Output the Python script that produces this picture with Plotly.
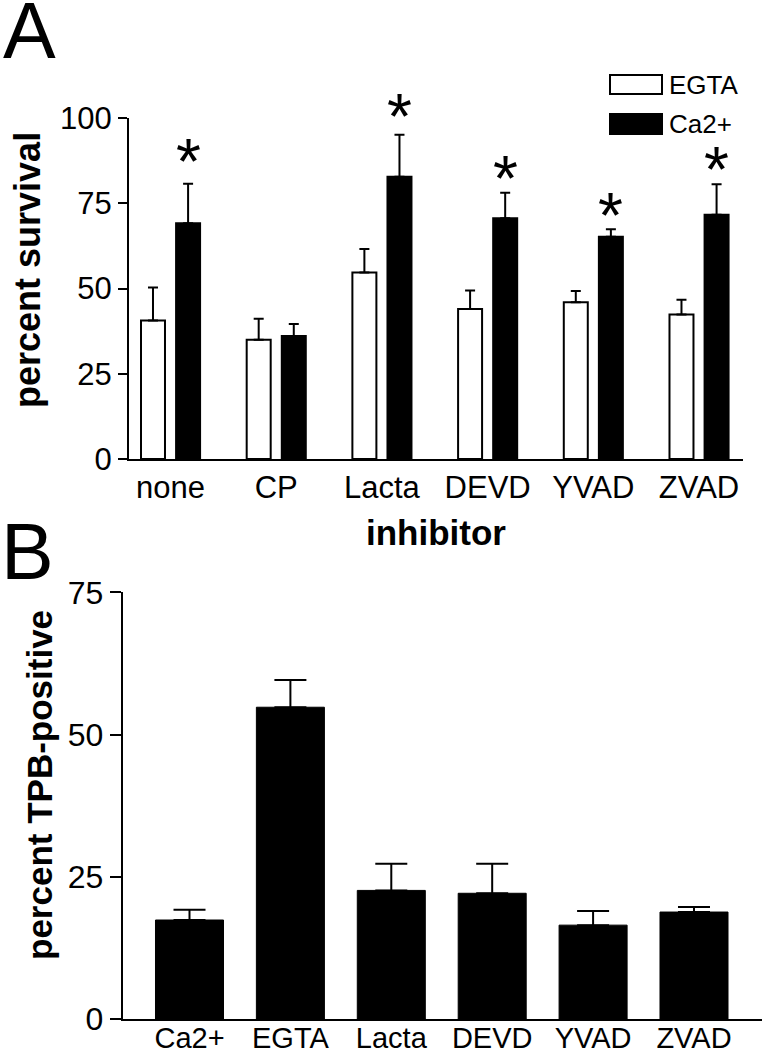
import plotly.graph_objects as go

# ---- Panel A data ----
inhibitors = ["none", "CP", "Lacta", "DEVD", "YVAD", "ZVAD"]
egta_mean = [40.6, 35.0, 54.7, 44.0, 46.0, 42.4]
egta_sem = [9.7, 6.1, 6.9, 5.4, 3.3, 4.3]
ca_mean = [69.1, 36.1, 82.8, 70.6, 65.2, 71.6]
ca_sem = [11.6, 3.5, 12.3, 7.5, 2.2, 9.0]
sig_groups = ["none", "Lacta", "DEVD", "YVAD", "ZVAD"]
sig_level = [89.6, 102.9, 84.7, 73.8, 87.4]
yticks_a = [0, 25, 50, 75, 100]

# ---- Panel B data ----
conditions = ["Ca2+", "EGTA", "Lacta", "DEVD", "YVAD", "ZVAD"]
tpb_mean = [17.4, 54.8, 22.6, 22.1, 16.5, 18.8]
tpb_sem = [1.8, 4.8, 4.7, 5.2, 2.5, 0.9]
yticks_b = [0, 25, 50, 75]

W, H = 774, 1050
FONT = "Liberation Sans, Arial, sans-serif"
YMAX_A = 100

def px_x(p):
    return p / W

def px_y(p):
    return 1 - p / H

fig = go.Figure()

bw = 0.227
off = 0.166
fig.add_trace(go.Bar(
    x=inhibitors, y=egta_mean, width=bw, offset=-off - bw / 2,
    marker=dict(color="white", line=dict(color="black", width=2)),
    error_y=dict(type="data", symmetric=False, array=egta_sem,
                 arrayminus=[0] * len(egta_sem), color="black", thickness=2, width=5),
    xaxis="x", yaxis="y", name="EGTA", showlegend=False))
fig.add_trace(go.Bar(
    x=inhibitors, y=ca_mean, width=bw, offset=off - bw / 2,
    marker=dict(color="black", line=dict(color="black", width=2)),
    error_y=dict(type="data", symmetric=False, array=ca_sem,
                 arrayminus=[0] * len(ca_sem), color="black", thickness=2, width=5),
    xaxis="x", yaxis="y", name="Ca2+", showlegend=False))

fig.add_trace(go.Bar(
    x=conditions, y=tpb_mean, width=0.674,
    marker=dict(color="black", line=dict(color="black", width=1)),
    error_y=dict(type="data", symmetric=False, array=tpb_sem,
                 arrayminus=[0] * len(tpb_sem), color="black", thickness=2, width=16),
    xaxis="x2", yaxis="y2", showlegend=False))

# asterisks (significance marks above Ca2+ bars)
for g, lv in zip(sig_groups, sig_level):
    idx = inhibitors.index(g)
    fig.add_annotation(x=idx + off, y=lv / YMAX_A, xref="x", yref="y domain", text="*",
                       showarrow=False, font=dict(family=FONT, size=64, color="black"),
                       xanchor="center", yanchor="middle", yshift=-9)

axis_common = dict(showline=True, linecolor="black", linewidth=2, showgrid=False,
                   zeroline=False, mirror=False, automargin=False)

fig.update_layout(
    width=W, height=H, margin=dict(l=0, r=0, t=0, b=0, autoexpand=False),
    plot_bgcolor="white", paper_bgcolor="white",
    font=dict(family=FONT, color="black"),
    barmode="overlay",
    xaxis=dict(domain=[px_x(129), px_x(743)], anchor="y", type="category",
               range=[-0.393, 5.416], ticks="", tickfont=dict(size=31),
               **axis_common),
    yaxis=dict(domain=[px_y(459), px_y(118)], anchor="x", range=[0, YMAX_A],
               tickvals=yticks_a, ticks="outside", ticklen=9, tickwidth=2,
               tickcolor="black", tickfont=dict(size=31), **axis_common),
    xaxis2=dict(domain=[px_x(122.7), px_x(762)], anchor="y2", type="category",
                range=[-0.662, 5.674], ticks="", tickfont=dict(size=29),
                ticklabelstandoff=-8, **axis_common),
    yaxis2=dict(domain=[px_y(1019), px_y(592.3)], anchor="x2", range=[0, 75],
                tickvals=yticks_b, ticks="outside", ticklen=11, tickwidth=2,
                tickcolor="black", tickfont=dict(size=32), **axis_common),
)

# legend (manual)
fig.add_shape(type="rect", xref="paper", yref="paper",
              x0=px_x(610), x1=px_x(662), y0=px_y(94), y1=px_y(75),
              line=dict(color="black", width=2), fillcolor="white")
fig.add_shape(type="rect", xref="paper", yref="paper",
              x0=px_x(610), x1=px_x(662), y0=px_y(134), y1=px_y(114),
              line=dict(color="black", width=2), fillcolor="black")
fig.add_annotation(x=px_x(667), y=px_y(85), xref="paper", yref="paper", text="EGTA",
                   showarrow=False, xanchor="left", yanchor="middle",
                   font=dict(family=FONT, size=26))
fig.add_annotation(x=px_x(667), y=px_y(124), xref="paper", yref="paper", text="Ca2+",
                   showarrow=False, xanchor="left", yanchor="middle",
                   font=dict(family=FONT, size=26))

# axis titles
fig.add_annotation(x=px_x(27), y=px_y(270), xref="paper", yref="paper",
                   text="<b>percent survival</b>", textangle=-90, showarrow=False,
                   xanchor="center", yanchor="middle", font=dict(family=FONT, size=36))
fig.add_annotation(x=px_x(436), y=px_y(532), xref="paper", yref="paper",
                   text="<b>inhibitor</b>", showarrow=False,
                   xanchor="center", yanchor="middle", font=dict(family=FONT, size=35))
fig.add_annotation(x=px_x(39), y=px_y(785), xref="paper", yref="paper",
                   text="<b>percent TPB-positive</b>", textangle=-90, showarrow=False,
                   xanchor="center", yanchor="middle", font=dict(family=FONT, size=35))

# panel letters
fig.add_annotation(x=px_x(1), y=px_y(30), xref="paper", yref="paper", text="A",
                   showarrow=False, xanchor="left", yanchor="middle",
                   font=dict(family=FONT, size=79))
fig.add_annotation(x=px_x(-1), y=px_y(551), xref="paper", yref="paper", text="B",
                   showarrow=False, xanchor="left", yanchor="middle",
                   font=dict(family=FONT, size=79))

fig.write_html("out.html", config={"displayModeBar": False},
               post_script="document.body.style.margin='0';")
